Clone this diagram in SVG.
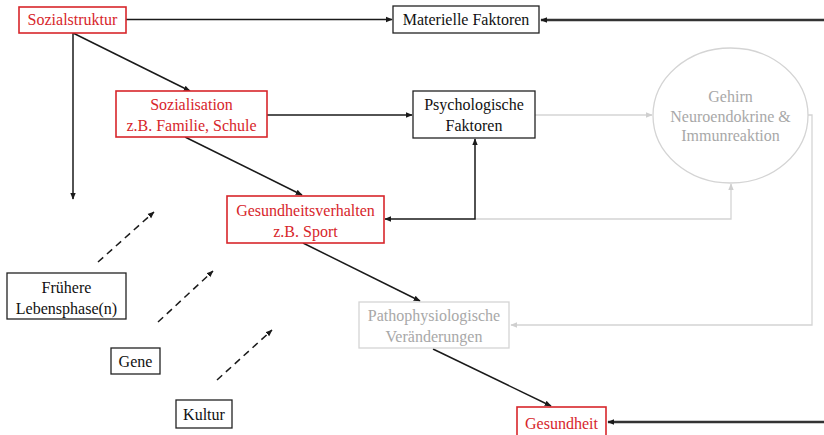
<svg xmlns="http://www.w3.org/2000/svg" width="824" height="435" viewBox="0 0 824 435">
<defs>
<style>
text{font-family:"Liberation Serif","Times New Roman",serif;font-size:16px;text-anchor:middle}
.red rect{fill:#fff;stroke:#d7262b;stroke-width:1.6}
.red text{fill:#d7262b}
.blk rect{fill:#fff;stroke:#222;stroke-width:1.3}
.blk text{fill:#111}
.gry rect,.gry ellipse{fill:#fff;stroke:#d4d4d4;stroke-width:1.3}
.gry text{fill:#a8a8a8}
.c{fill:none;stroke:#1a1a1a;stroke-width:1.5}
.ct{fill:none;stroke:#333;stroke-width:2.6}
.cg{fill:none;stroke:#d4d4d4;stroke-width:1.3}
.cd{fill:none;stroke:#1a1a1a;stroke-width:1.5;stroke-dasharray:7 5}
</style>
<marker id="a" viewBox="0 0 10 10" refX="9" refY="5" markerWidth="7" markerHeight="7" markerUnits="userSpaceOnUse" orient="auto-start-reverse"><path d="M0,1L10,5L0,9z" fill="#1a1a1a"/></marker>
<marker id="ag" viewBox="0 0 10 10" refX="9" refY="5" markerWidth="7" markerHeight="7" markerUnits="userSpaceOnUse" orient="auto"><path d="M0,1L10,5L0,9z" fill="#cfcfcf"/></marker>
</defs>
<rect width="824" height="435" fill="#fff"/>
<g id="connectors">
<path class="c" d="M126,19.5H392" marker-end="url(#a)"/>
<path class="ct" d="M824,20H541" marker-end="url(#a)"/>
<path class="c" d="M73,33V199" marker-end="url(#a)"/>
<path class="c" d="M73,33L190,91" marker-end="url(#a)"/>
<path class="c" d="M267,115H412" marker-end="url(#a)"/>
<path class="cg" d="M535,115H652" marker-end="url(#ag)"/>
<path class="cg" d="M808,115H812V325H511" marker-end="url(#ag)"/>
<path class="cg" d="M475,219H731V184" marker-end="url(#ag)"/>
<path class="c" d="M475,139V219H385" marker-start="url(#a)" marker-end="url(#a)"/>
<path class="c" d="M185,137L302,195" marker-end="url(#a)"/>
<path class="c" d="M303,243L420,301" marker-end="url(#a)"/>
<path class="c" d="M433,349L551,406" marker-end="url(#a)"/>
<path class="ct" d="M824,422H608" marker-end="url(#a)"/>
<path class="cd" d="M98,262L154,212" marker-end="url(#a)"/>
<path class="cd" d="M158,322L213,271" marker-end="url(#a)"/>
<path class="cd" d="M217,380L272,330" marker-end="url(#a)"/>
</g>
<g id="sozialstruktur" class="red"><rect x="19" y="7" width="107" height="26"/><text x="72.5" y="25">Sozialstruktur</text></g>
<g id="materielle" class="blk"><rect x="393" y="6" width="146" height="27"/><text x="466" y="25">Materielle Faktoren</text></g>
<g id="sozialisation" class="red"><rect x="116" y="91" width="151" height="46"/><text x="191.5" y="110">Sozialisation</text><text x="191.5" y="131">z.B. Familie, Schule</text></g>
<g id="psychologische" class="blk"><rect x="413" y="91" width="122" height="47"/><text x="474" y="110">Psychologische</text><text x="474" y="131">Faktoren</text></g>
<g id="gehirn" class="gry"><ellipse cx="730.5" cy="115.5" rx="77.5" ry="67.5"/><text x="730.5" y="102">Gehirn</text><text x="730.5" y="122">Neuroendokrine &amp;</text><text x="730.5" y="141">Immunreaktion</text></g>
<g id="gesundheitsverhalten" class="red"><rect x="227" y="196" width="157" height="47"/><text x="305.5" y="216">Gesundheitsverhalten</text><text x="305.5" y="237">z.B. Sport</text></g>
<g id="pathophysiologische" class="gry"><rect x="359" y="302" width="150" height="46"/><text x="434" y="321">Pathophysiologische</text><text x="434" y="342">Veränderungen</text></g>
<g id="gesundheit" class="red"><rect x="517" y="407" width="89" height="30"/><text x="561.5" y="429">Gesundheit</text></g>
<g id="fruehere" class="blk"><rect x="7" y="273" width="119" height="46"/><text x="66.5" y="293">Frühere</text><text x="66.5" y="314">Lebensphase(n)</text></g>
<g id="gene" class="blk"><rect x="111" y="348" width="49" height="26"/><text x="135.5" y="367">Gene</text></g>
<g id="kultur" class="blk"><rect x="176" y="400" width="56" height="28"/><text x="204" y="420">Kultur</text></g>
</svg>
